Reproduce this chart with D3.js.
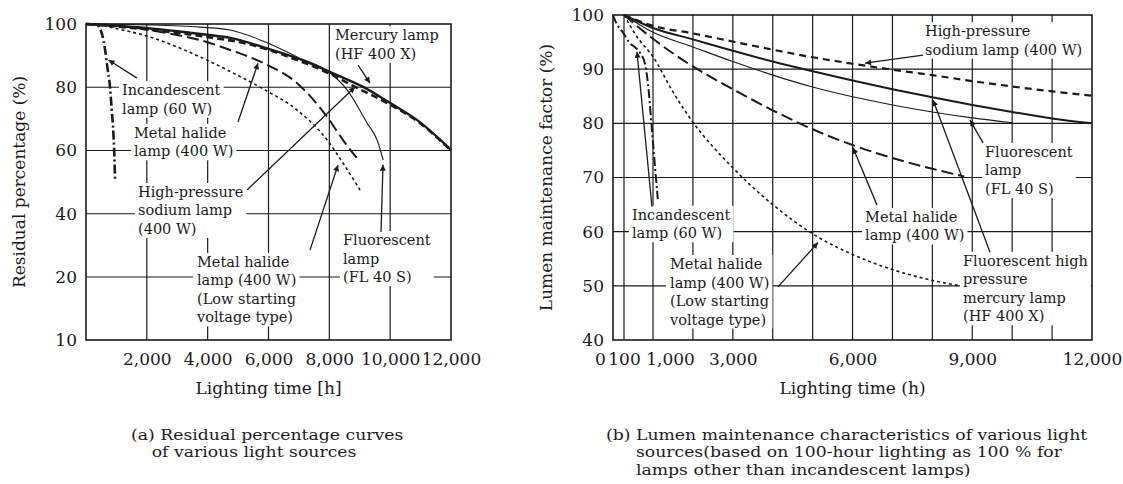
<!DOCTYPE html>
<html>
<head>
<meta charset="utf-8">
<script src="https://cdn.jsdelivr.net/npm/d3@7"></script>
<style>
  html, body { margin: 0; padding: 0; background: #fff; }
  svg { display: block; }
  text { font-family: "DejaVu Serif", serif; fill: #1b1b1b; }
</style>
</head>
<body>
<svg id="fig" width="1123" height="484"></svg>
<script>
// ---------- (a) Residual percentage curves: [hours, %] ----------
const residualIncandescent = [[0,100],[350,99.7],[520,97],[625,92],[700,86.5],[790,80],[845,73],[900,65.5],[930,59],[955,51]];
const residualMetalHalide = [[0,100],[1120,99.4],[1880,98.4],[3000,96.5],[3750,94.9],[4740,91.8],[5820,87.7],[6940,81.3],[7930,70.6],[8450,63.3],[8950,57]];
const residualMetalHalideLowStart = [[0,100],[460,99.7],[790,99],[2100,95.9],[3750,89.6],[4740,85],[5820,79.5],[6940,72.8],[7930,63.3],[8450,56],[9010,47.5]];
const residualSodium = [[0,100],[1880,98.4],[3000,97.2],[3980,95.9],[5400,93.5],[6940,88.6],[8030,84.2],[8850,80.1],[10000,74.5],[10890,69.3],[12000,60]];
const residualMercury = [[0,100],[1880,98.8],[3000,97.7],[3980,96.6],[4740,95.6],[5820,92.7],[6940,89.2],[8030,84.8],[9110,80.1],[10000,75],[10890,69.6],[12000,60.2]];
const residualFluorescent = [[0,100],[2100,99.7],[3750,99],[4740,98.1],[5820,94.6],[6940,89.6],[8030,84.5],[8590,79.1],[9240,68.7],[9570,63.3],[9770,57]];

const residualTickValuesX = [2000,4000,6000,8000,10000,12000];
const residualTickLabelsX = ["2,000","4,000","6,000","8,000","10,000","12,000"];
const residualTickValuesY = [10,20,40,60,80,100];
const residualTickLabelsY = ["10","20","40","60","80","100"];
const residualGridX = [2000,4000,6000,8000,10000];
const residualGridY = [20,40,60,80];

// ---------- (b) Lumen maintenance characteristics: [hours, %] ----------
const lumenIncandescent = [[0,100],[30,98.5],[100,96.5],[250,95],[450,94],[600,93],[750,91],[850,87],[950,80],[1050,72],[1120,66]];
const lumenSodium = [[100,100],[1000,98],[2000,96.6],[3000,95.1],[4000,93.6],[5000,92.2],[6000,91],[7000,89.9],[8000,88.9],[9000,87.8],[10000,86.8],[11000,85.9],[12000,85.1]];
const lumenMercury = [[100,100],[1000,97.6],[2000,95.5],[3000,93.4],[4000,91.4],[5000,89.6],[6000,87.9],[7000,86.3],[8000,84.8],[9000,83.4],[10000,82.1],[11000,80.9],[12000,80]];
const lumenFluorescent = [[100,100],[1000,96.8],[2000,94.1],[3000,91.4],[4000,88.9],[5000,86.7],[6000,84.9],[7000,83.4],[8000,82.1],[9000,81],[10000,80.1]];
const lumenMetalHalide = [[100,100],[1000,95.6],[2000,90.5],[3000,86.3],[4000,82.4],[5000,78.9],[6000,76],[7000,73.6],[8000,71.6],[8800,70.2]];
const lumenMetalHalideLowStart = [[100,100],[500,96],[1000,92.3],[1500,85.8],[2000,80.2],[2500,75.7],[3000,71.8],[3500,68.2],[4000,65],[5000,59.6],[6000,55.8],[7000,53],[8000,51],[8700,50]];

const lumenTickValuesX = [0,100,1000,3000,6000,9000,12000];
const lumenTickLabelsX = ["0","100","1,000","3,000","6,000","9,000","12,000"];
const lumenTickValuesY = [40,50,60,70,80,90,100];
const lumenTickLabelsY = ["40","50","60","70","80","90","100"];
const lumenGridX = [100,1000,2000,3000,4000,5000,6000,7000,8000,9000,10000,11000];
const lumenGridY = [50,60,70,80,90];

// ---------- drawing ----------
const ink = "#1b1b1b";
const svg = d3.select("#fig");

svg.append("defs").append("marker")
  .attr("id", "tip")
  .attr("viewBox", "0 0 10 10")
  .attr("refX", 10).attr("refY", 5)
  .attr("markerWidth", 10).attr("markerHeight", 6)
  .attr("markerUnits", "userSpaceOnUse")
  .attr("orient", "auto")
  .append("path").attr("d", "M0,0L10,5L0,10z").attr("fill", ink);

const styles = {
  incandescent: { width: 2.6, dash: "9,3,2,3" },
  sodium:       { width: 2.6, dash: "7,4" },
  mercury:      { width: 2.4, dash: null },
  fluorescent:  { width: 1.1, dash: null },
  metalHalide:  { width: 2.0, dash: "12,5" },
  lowStart:     { width: 1.6, dash: "3,3" }
};

function drawPanel(cfg) {
  const { x, y } = cfg;
  const g = svg.append("g");
  const [x0, x1] = [x.range()[0], x.range()[x.range().length - 1]];
  const [y0, y1] = [y.range()[0], y.range()[y.range().length - 1]];

  // grid
  const grid = g.append("g").attr("stroke", ink).attr("stroke-width", 1.2);
  grid.selectAll("line.vx").data(cfg.gridX).join("line")
    .attr("x1", d => x(d)).attr("x2", d => x(d)).attr("y1", y0).attr("y2", y1);
  grid.selectAll("line.hy").data(cfg.gridY).join("line")
    .attr("y1", d => y(d)).attr("y2", d => y(d)).attr("x1", x0).attr("x2", x1);

  // annotation layers (white boxes break the grid behind the words)
  const boxLayer = g.append("g");
  const curveLayer = g.append("g");
  const arrowLayer = g.append("g");
  const textLayer = g.append("g");

  // frame
  g.append("rect").attr("x", x0).attr("y", y1).attr("width", x1 - x0).attr("height", y0 - y1)
    .attr("fill", "none").attr("stroke", ink).attr("stroke-width", 1.6);

  // axes
  const ax = g.append("g").attr("transform", `translate(0,${y0})`)
    .call(d3.axisBottom(x).tickValues(cfg.tickX).tickSize(0).tickPadding(13)
      .tickFormat((d, i) => cfg.tickLabelsX[i]));
  const ay = g.append("g").attr("transform", `translate(${x0},0)`)
    .call(d3.axisLeft(y).tickValues(cfg.tickY).tickSize(0).tickPadding(9)
      .tickFormat((d, i) => cfg.tickLabelsY[i]));
  [ax, ay].forEach(a => {
    a.select(".domain").remove();
    a.selectAll("text").attr("font-size", 17).attr("font-family", "DejaVu Serif").attr("fill", ink);
  });
  if (cfg.nudgeX) cfg.nudgeX(ax);

  // axis titles
  g.append("text").attr("x", (x0 + x1) / 2).attr("y", cfg.xTitleY)
    .attr("text-anchor", "middle").attr("font-size", 17).text(cfg.xTitle);
  g.append("text").attr("transform", `translate(${cfg.yTitleX},${(y0 + y1) / 2}) rotate(-90)`)
    .attr("text-anchor", "middle").attr("font-size", 17).text(cfg.yTitle);

  // curves
  const line = d3.line().x(d => x(d[0])).y(d => y(d[1])).curve(d3.curveMonotoneX);
  cfg.series.forEach(s => {
    curveLayer.append("path").datum(s.values)
      .attr("d", line).attr("fill", "none").attr("stroke", ink)
      .attr("stroke-width", s.style.width)
      .attr("stroke-dasharray", s.style.dash)
      .attr("stroke-linejoin", "round");
  });

  // arrows
  cfg.arrows.forEach(a => {
    arrowLayer.append("line")
      .attr("x1", x(a.from[0])).attr("y1", y(a.from[1]))
      .attr("x2", x(a.to[0])).attr("y2", y(a.to[1]))
      .attr("stroke", ink).attr("stroke-width", 1.3)
      .attr("marker-end", "url(#tip)");
  });

  // labels
  cfg.labels.forEach(l => {
    const t = textLayer.append("text")
      .attr("x", x(l.at[0])).attr("y", y(l.at[1]))
      .attr("font-size", 14.5);
    l.lines.forEach((s, i) => {
      t.append("tspan").attr("x", x(l.at[0])).attr("dy", i === 0 ? 0 : 18.5).text(s);
    });
    const b = t.node().getBBox();
    boxLayer.append("rect")
      .attr("x", b.x - 3).attr("y", b.y - 1)
      .attr("width", b.width + 6).attr("height", b.height + 2)
      .attr("fill", "#fff");
  });
}

// (a) panel
const xA = d3.scaleLinear().domain([0, 12000]).range([86, 451]);
const yA = d3.scaleLinear().domain([10, 20, 100]).range([340, 277, 24]);
drawPanel({
  x: xA, y: yA,
  gridX: residualGridX, gridY: residualGridY,
  tickX: residualTickValuesX, tickLabelsX: residualTickLabelsX,
  tickY: residualTickValuesY, tickLabelsY: residualTickLabelsY,
  xTitle: "Lighting time [h]", xTitleY: 394,
  yTitle: "Residual percentage (%)", yTitleX: 25,
  series: [
    { values: residualFluorescent, style: styles.fluorescent },
    { values: residualMercury, style: styles.mercury },
    { values: residualSodium, style: styles.sodium },
    { values: residualMetalHalide, style: styles.metalHalide },
    { values: residualMetalHalideLowStart, style: styles.lowStart },
    { values: residualIncandescent, style: styles.incandescent }
  ],
  labels: [
    { lines: ["Incandescent", "lamp (60 W)"], at: [1184, 77.5] },
    { lines: ["Metal halide", "lamp (400 W)"], at: [1578, 64] },
    { lines: ["High-pressure", "sodium lamp", "(400 W)"], at: [1710, 45.3] },
    { lines: ["Metal halide", "lamp (400 W)", "(Low starting", "voltage type)"], at: [3649, 23.2] },
    { lines: ["Fluorescent", "lamp", "(FL 40 S)"], at: [8449, 30.1] },
    { lines: ["Mercury lamp", "(HF 400 X)"], at: [8186, 94.9] }
  ],
  arrows: [
    { from: [1677, 82.9], to: [740, 88.6] },
    { from: [4997, 69], to: [5655, 87.6] },
    { from: [5293, 47.5], to: [8844, 80.1] },
    { from: [7364, 28.5], to: [8285, 55.4] },
    { from: [9699, 34.2], to: [9764, 55.5] },
    { from: [8943, 87], to: [9337, 81.3] }
  ]
});

// (b) panel
const xB = d3.scaleLinear().domain([0, 100, 1000, 12000]).range([613, 624, 653, 1092]);
const yB = d3.scaleLinear().domain([40, 100]).range([340, 15]);
drawPanel({
  x: xB, y: yB,
  gridX: lumenGridX, gridY: lumenGridY,
  tickX: lumenTickValuesX, tickLabelsX: lumenTickLabelsX,
  tickY: lumenTickValuesY, tickLabelsY: lumenTickLabelsY,
  xTitle: "Lighting time (h)", xTitleY: 394,
  yTitle: "Lumen maintenance factor (%)", yTitleX: 552,
  // crowded labels at the left end of the time axis
  nudgeX: a => {
    a.selectAll(".tick text").each(function (d) {
      if (d === 0) d3.select(this).attr("dx", -13);
      if (d === 1000) d3.select(this).attr("dx", 17);
    });
  },
  series: [
    { values: lumenFluorescent, style: styles.fluorescent },
    { values: lumenMercury, style: { width: 2.0, dash: null } },
    { values: lumenSodium, style: { width: 2.2, dash: "7,5" } },
    { values: lumenMetalHalide, style: styles.metalHalide },
    { values: lumenMetalHalideLowStart, style: styles.lowStart },
    { values: lumenIncandescent, style: { width: 2.0, dash: "9,3,2,3" } }
  ],
  labels: [
    { lines: ["High-pressure", "sodium lamp (400 W)"], at: [7817, 96.1] },
    { lines: ["Fluorescent", "lamp", "(FL 40 S)"], at: [9320, 73.8] },
    { lines: ["Metal halide", "lamp (400 W)"], at: [6313, 61.8] },
    { lines: ["Fluorescent high", "pressure", "mercury lamp", "(HF 400 X)"], at: [8769, 53.7] },
    { lines: ["Incandescent", "lamp (60 W)"], at: [348, 62.2] },
    { lines: ["Metal halide", "lamp (400 W)", "(Low starting", "voltage type)"], at: [1426, 53.1] }
  ],
  arrows: [
    { from: [7766, 92.6], to: [6313, 91.1] },
    { from: [9270, 76.4], to: [8944, 80.6] },
    { from: [6614, 64.9], to: [6012, 75.5] },
    { from: [9445, 56.2], to: [8017, 84.3] },
    { from: [4133, 49.8], to: [5135, 58] },
    { from: [968, 64.6], to: [503, 93.2] }
  ]
});

// captions (slightly widened type, tight leading)
const captionA = ["(a) Residual percentage curves", "of various light sources"];
const captionB = ["(b) Lumen maintenance characteristics of various light",
                  "sources(based on 100-hour lighting as 100 % for",
                  "lamps other than incandescent lamps)"];
function caption(lines, x, indent, y) {
  const g = svg.append("g").attr("transform", `translate(${x},${y}) scale(1.15,1)`);
  lines.forEach((s, i) => {
    g.append("text").attr("font-size", 15)
      .attr("x", i === 0 ? 0 : indent).attr("y", i * 17.5).text(s);
  });
}
caption(captionA, 131, 18, 440);
caption(captionB, 606, 26, 440);
</script>
</body>
</html>
